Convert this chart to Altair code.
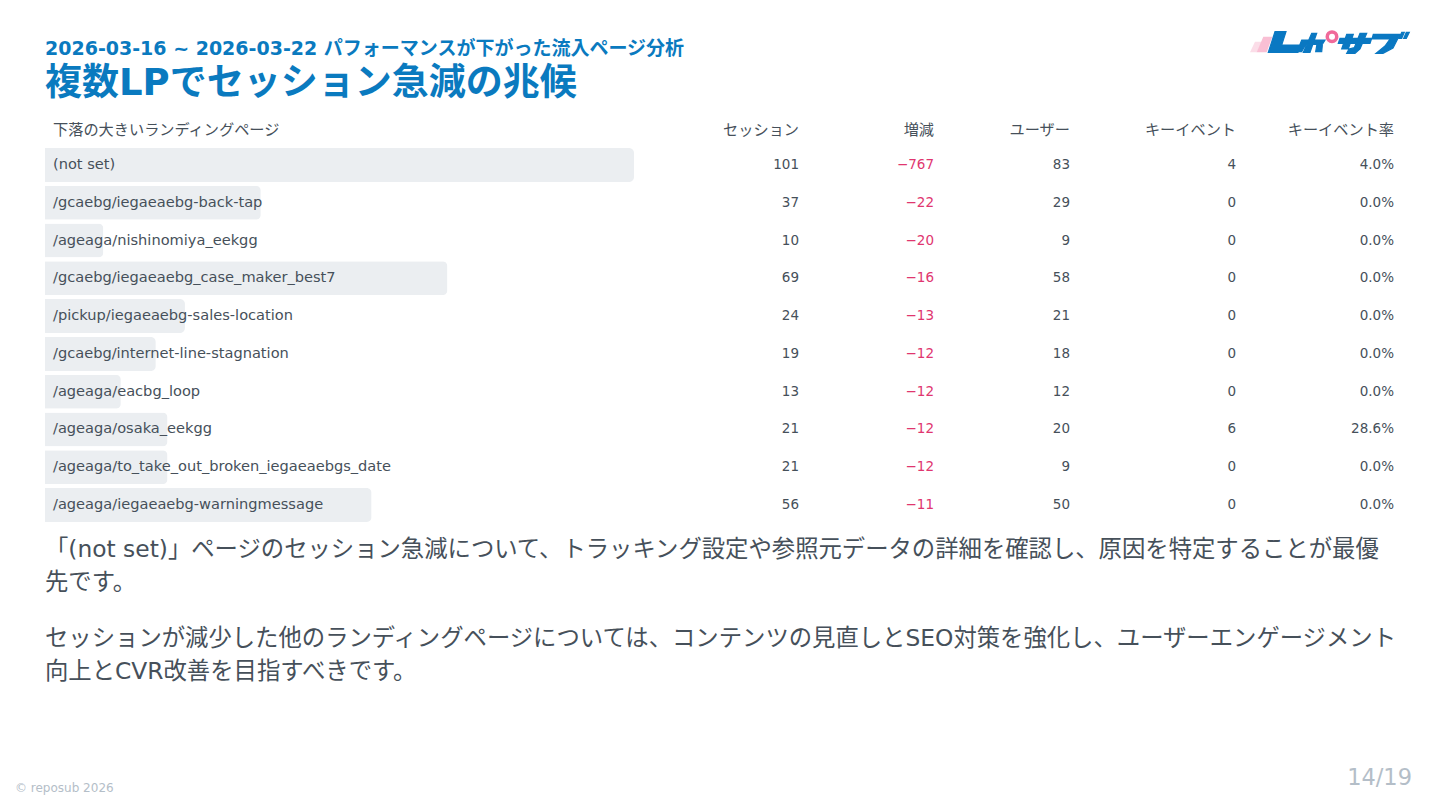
import altair as alt
import pandas as pd

pages = ["(not set)", "/gcaebg/iegaeaebg-back-tap", "/ageaga/nishinomiya_eekgg",
         "/gcaebg/iegaeaebg_case_maker_best7", "/pickup/iegaeaebg-sales-location",
         "/gcaebg/internet-line-stagnation", "/ageaga/eacbg_loop", "/ageaga/osaka_eekgg",
         "/ageaga/to_take_out_broken_iegaeaebgs_date", "/ageaga/iegaeaebg-warningmessage"]
sessions = [101, 37, 10, 69, 24, 19, 13, 21, 21, 56]
changes = ["−767", "−22", "−20", "−16", "−13", "−12", "−12", "−12", "−12", "−11"]
users = [83, 29, 9, 58, 21, 18, 12, 20, 9, 50]
key_events = [4, 0, 0, 0, 0, 0, 0, 6, 0, 0]
key_rates = ["4.0%", "0.0%", "0.0%", "0.0%", "0.0%", "0.0%", "0.0%", "28.6%", "0.0%", "0.0%"]
headers = ["セッション", "増減", "ユーザー", "キーイベント", "キーイベント率"]
header_first = "下落の大きいランディングページ"
subtitle = "2026-03-16 ~ 2026-03-22 パフォーマンスが下がった流入ページ分析"
title = "複数LPでセッション急減の兆候"
para = ["「(not set)」ページのセッション急減について、トラッキング設定や参照元データの詳細を確認し、原因を特定することが最優",
        "先です。",
        "セッションが減少した他のランディングページについては、コンテンツの見直しとSEO対策を強化し、ユーザーエンゲージメント",
        "向上とCVR改善を目指すべきです。"]

FONT = "'DejaVu Sans', 'Noto Sans CJK JP', sans-serif"
INK = "#46505a"
BLUE = "#0a7abf"
OX, OY = 8, 8

df = pd.DataFrame(dict(page=pages, sessions=sessions, change=changes, users=users,
                       ke=key_events, rate=key_rates))

y = alt.Y("page:N", axis=None, scale=alt.Scale(domain=pages, range=[146.1 - OY, 523.9 - OY], paddingInner=0, paddingOuter=0))
bars = alt.Chart(df).mark_bar(height=34, color="#ebeef1", cornerRadiusEnd=5).encode(
    x=alt.X("sessions:Q", axis=None, scale=alt.Scale(domain=[0, 101], range=[45 - OX, 634 - OX])),
    y=y)


def col(field, right, color=INK):
    return alt.Chart(df).mark_text(align="right", baseline="middle", font=FONT, fontSize=13.5, color=color).encode(
        x=alt.value(right - OX), y=y, text=alt.Text(field + ":N"))


names = alt.Chart(df).mark_text(align="left", baseline="middle", font=FONT, fontSize=14.6, color=INK).encode(
    x=alt.value(53 - OX), y=y, text="page:N")
cols = [col("sessions", 799), col("change", 934, "#e0366f"), col("users", 1070), col("ke", 1236), col("rate", 1394)]


def label(text, x, yy, size, color=INK, align="left", weight=400):
    return alt.Chart(pd.DataFrame({"t": [text]})).mark_text(
        align=align, baseline="middle", font=FONT, fontSize=size, color=color,
        fontWeight=weight).encode(
        x=alt.value(x - OX), y=alt.value(yy - OY), text="t:N")


hdr = [label(header_first, 53, 130, 15.2)] + [
    label(h, r, 130, 15.2, align="right") for h, r in zip(headers, [799, 934, 1070, 1236, 1394])]
texts = [label(subtitle, 45, 48.5, 19, BLUE, weight=700),
         label(title, 45, 83.5, 37, BLUE, weight=700)]
ps = [label(t, 45, yy, 23.35) for t, yy in zip(para, [549.5, 582.5, 638.5, 671.5])]
foot = [label("© reposub 2026", 15, 787.5, 12, "#b4bec8"),
        label("14/19", 1412, 777.5, 22.5, "#b4bec8", align="right")]

# logo drawn as custom symbol paths around its anchor (size=4 gives a unit scale)
LOGO_X, LOGO_Y = 1245, 25
PALE = "M5 27.3L10 16.7L17 16.7L12 27.3Z"
PINK = "M11.7 27.3L18.3 11.7L27.3 11.7L21.7 27.3Z"
WORD = ("M30 6.7L41 6.7L36.7 20L56 20L53 27.3L23.3 27.3Z"
        "M56.7 15L80 15L77.3 19.3L55 19.3Z"
        "M66.7 8.3L71.7 8.3L65 27.3L58.3 27.3Z"
        "M55 20.7L60 20.7L56.7 26.7L51.7 26.7Z"
        "M71.7 20.7L77.3 20.7L76.7 26.7L70.7 26.7Z"
        "M95 13.3L126.7 13.3L125 18.3L93.3 18.3Z"
        "M101.7 9.3L108.3 9.3L103.3 24L96.7 24Z"
        "M115 8.3L121.7 8.3L115 24L110 28.3L101.7 28.3L104 24L109.3 22.7Z"
        "M128.3 9.3L155 9.3L148 23L138 28.3L131 28.3L140 21L145 14L127 14Z"
        "M156.7 7.3L159.3 7.3L156.7 13.3L154.3 13.3Z"
        "M161.3 7.3L164.3 7.3L161.3 13.3L158.7 13.3Z")


def logo_part(path, color, sw=0):
    return alt.Chart(pd.DataFrame({"a": [0]})).mark_point(
        shape=path, filled=True, opacity=1, color=color, size=4, stroke=color, strokeWidth=sw).encode(
        x=alt.value(LOGO_X - OX), y=alt.value(LOGO_Y - OY))


logo = [logo_part(PALE, "#fbdde8"), logo_part(PINK, "#f9bfd4"), logo_part(WORD, "#0a78c2", 1.2)]
ring = alt.Chart(pd.DataFrame({"a": [0]})).mark_point(
    shape="circle", filled=False, opacity=1, color="#f06a9a", stroke="#f06a9a", strokeWidth=3.5, size=90).encode(
    x=alt.value(1332 - OX), y=alt.value(36.7 - OY))

chart = alt.layer(bars, names, *cols, *hdr, *texts, *ps, *foot, *logo, ring).properties(
    width=1424, height=790, padding=0,
    autosize=alt.AutoSizeParams(type="fit", contains="padding")
).configure(background="white").configure_view(strokeWidth=0, stroke="transparent")
chart.save("out.html", embed_options={"renderer": "svg", "actions": False})
